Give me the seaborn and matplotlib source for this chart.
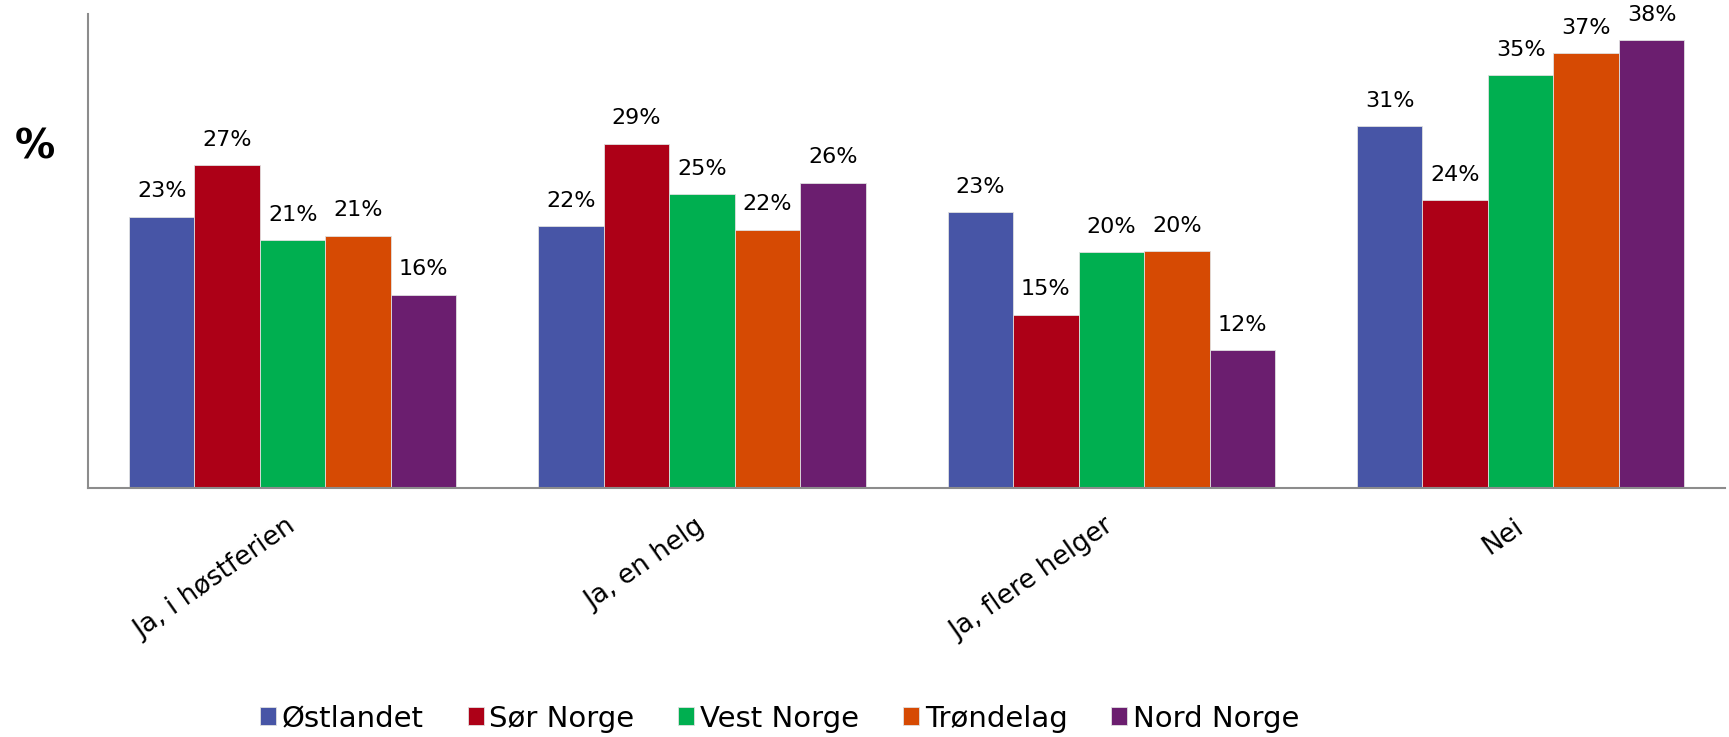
import matplotlib

matplotlib.use("Agg")
import matplotlib.pyplot as plt
import pandas as pd
import seaborn as sns

# Svar per kategori, prosent per landsdel (lest av figuren)
categories = ["Ja, i høstferien", "Ja, en helg", "Ja, flere helger", "Nei"]
regions = ["Østlandet", "Sør Norge", "Vest Norge", "Trøndelag", "Nord Norge"]
ostlandet = [23.0, 22.2, 23.4, 30.7]
sor_norge = [27.4, 29.2, 14.7, 24.4]
vest_norge = [21.0, 24.9, 20.0, 35.0]
trondelag = [21.4, 21.9, 20.1, 36.9]
nord_norge = [16.4, 25.9, 11.7, 38.0]
colors = ["#4755A6", "#AD0017", "#00AF50", "#D64A03", "#6B1E6F"]

series = [ostlandet, sor_norge, vest_norge, trondelag, nord_norge]
df = pd.DataFrame(
    [
        {"kategori": cat, "region": reg, "pct": vals[i]}
        for reg, vals in zip(regions, series)
        for i, cat in enumerate(categories)
    ]
)

sns.set_style("white")
plt.rcParams["font.family"] = ["DejaVu Sans"]
plt.rcParams["text.color"] = "black"
plt.rcParams["xtick.color"] = "black"

fig = plt.figure(figsize=(17.29, 7.37), dpi=100)
ax = fig.add_axes([0.0509, 0.338, 0.947, 0.643])

sns.barplot(
    data=df,
    x="kategori",
    y="pct",
    hue="region",
    order=categories,
    hue_order=regions,
    palette=colors,
    width=0.8,
    saturation=1,
    edgecolor="#e0e0e0",
    linewidth=0.6,
    legend=True,
    ax=ax,
)

for cont in ax.containers:
    ax.bar_label(cont, fmt="{:.0f}%", padding=11, fontsize=16, color="black")

ax.set_ylim(0, 40.2)
ax.set_xlim(-0.5, 3.5)
ax.set_yticks([])
ax.set_xlabel("")
ax.set_ylabel("")
ax.tick_params(axis="x", length=0, pad=26, labelcolor="black")
plt.setp(
    ax.get_xticklabels(),
    rotation=35,
    ha="right",
    va="center",
    rotation_mode="anchor",
    fontsize=19,
)

for side in ["top", "right"]:
    ax.spines[side].set_visible(False)
for side in ["left", "bottom"]:
    ax.spines[side].set_color("#8c8c8c")
    ax.spines[side].set_linewidth(1.5)

fig.text(0.02, 0.80, "%", fontsize=29, fontweight="bold", ha="center",
         va="center", color="black")

handles, labels = ax.get_legend_handles_labels()
ax.get_legend().remove()
fig.legend(
    handles,
    labels,
    loc="center",
    bbox_to_anchor=(0.451, 0.025),
    ncol=5,
    frameon=False,
    fontsize=21,
    handlelength=0.55,
    handleheight=0.55,
    handletextpad=0.2,
    columnspacing=1.5,
)

fig.savefig("out.png", dpi=100)
